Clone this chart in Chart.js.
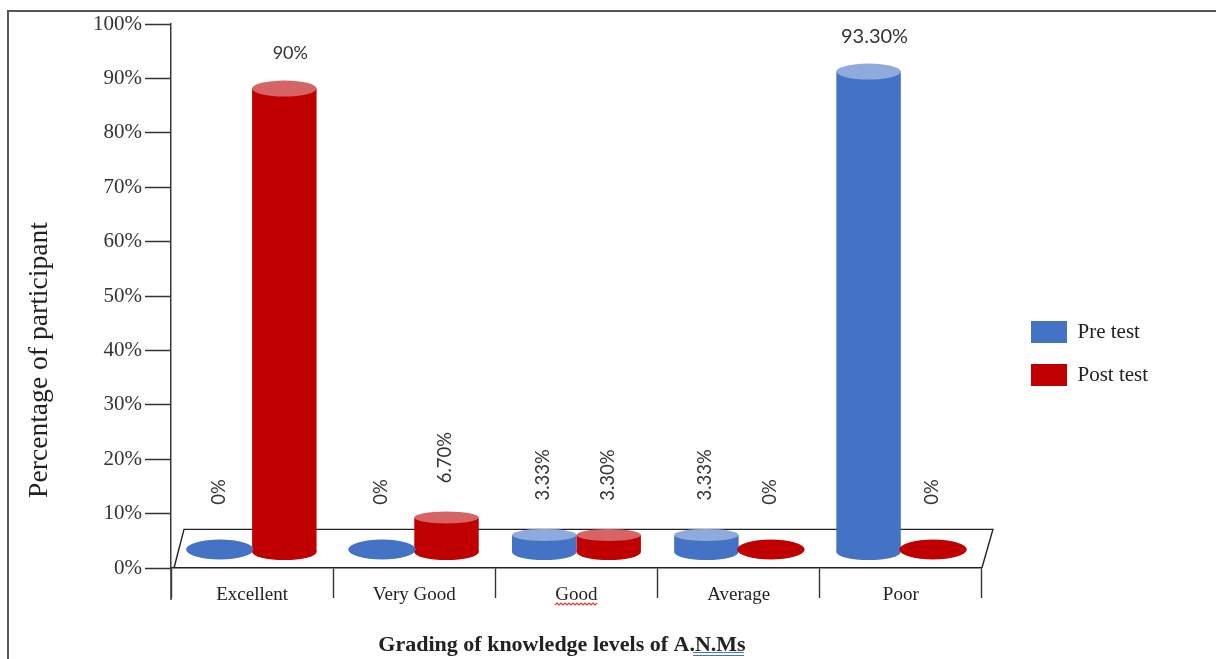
<!DOCTYPE html>
<html>
<head>
<meta charset="utf-8">
<title>Grading of knowledge levels</title>
<script src="https://cdn.jsdelivr.net/npm/chart.js@4"></script>
<style>
    html, body { margin: 0; padding: 0; background: #fff; overflow: hidden; }
    canvas { display: block; }
</style>
</head>
<body>
<canvas id="chart" width="1216" height="659"></canvas>
<script>
// values
const categories = ["Excellent", "Very Good", "Good", "Average", "Poor"];
const pre_test = [0, 0, 3.33, 3.33, 93.3];
const post_test = [90, 6.7, 3.3, 0, 0];
const pre_labels = ["0%", "0%", "3.33%", "3.33%", "93.30%"];
const post_labels = ["90%", "6.70%", "3.30%", "0%", "0%"];
const value_labels = [pre_labels, post_labels];

const BLUE = "#4472C4";
const RED = "#C00000";
const TOP_COLORS = ["#8FAADC", "#D66464"];
const LINE = "#3a3a3a";
const SERIF = "'Liberation Serif', serif";

// the cylinders stand on the 3D floor, so they get their own hidden scale
// (zero sits a little above the front edge of the floor)
const BAR_MIN = -3.1;
const BAR_MAX = 102.53;
const FLOOR_DEPTH = 7.1;

function ellipse(ctx, x, y, rx, ry, color) {
    ctx.fillStyle = color;
    ctx.beginPath();
    ctx.ellipse(x, y, rx, ry, 0, 0, Math.PI * 2);
    ctx.fill();
}

const framePlugin = {
    id: "frame",
    afterLayout(chart) {
        // legend sits further from the plot than the layout would put it
        const legend = chart.legend;
        const w = legend.width;
        legend.left = 1010;
        legend.right = legend.left + w;
        legend.top += 12;
        legend.bottom += 12;
    },
    beforeDatasetsDraw(chart) {
        const ctx = chart.ctx;
        const y = chart.scales.y;
        const area = chart.chartArea;
        const back = y.getPixelForValue(FLOOR_DEPTH);
        const front = y.getPixelForValue(0);

        ctx.save();
        // page frame
        ctx.strokeStyle = "#555";
        ctx.lineWidth = 2;
        ctx.beginPath();
        ctx.moveTo(8, 659);
        ctx.lineTo(8, 11);
        ctx.lineTo(1216, 11);
        ctx.stroke();

        // floor
        ctx.strokeStyle = "#222";
        ctx.lineWidth = 1.4;
        ctx.beginPath();
        ctx.moveTo(area.left + 3, front);
        ctx.lineTo(area.left + 13, back);
        ctx.lineTo(area.right + 11, back);
        ctx.lineTo(area.right, front);
        ctx.stroke();

        // y axis runs on below the zero line
        ctx.strokeStyle = LINE;
        ctx.lineWidth = 1.5;
        ctx.beginPath();
        ctx.moveTo(area.left, front);
        ctx.lineTo(area.left, front + 32);
        ctx.stroke();
        ctx.restore();
    },
    afterDatasetsDraw(chart) {
        const ctx = chart.ctx;
        ctx.save();
        chart.data.datasets.forEach(function (dataset, d) {
            chart.getDatasetMeta(d).data.forEach(function (bar, i) {
                const rx = bar.width / 2;
                const value = dataset.data[i];
                if (value === 0) {
                    ellipse(ctx, bar.x, bar.base - 2.5, rx + 1.5, 10, dataset.backgroundColor);
                } else {
                    ellipse(ctx, bar.x, bar.base, rx, 8, dataset.backgroundColor);
                    ellipse(ctx, bar.x, bar.y, rx, value > 10 ? 8 : 6, TOP_COLORS[d]);
                }

                // value label, rotated on the short bars
                const text = value_labels[d][i];
                ctx.fillStyle = "#333";
                ctx.textAlign = "center";
                ctx.textBaseline = "middle";
                ctx.save();
                if (value > 10) {
                    ctx.font = (value > 90 ? "20px" : "18px") + " Lato";
                    ctx.translate(bar.x + 6, bar.y - 35);
                } else {
                    ctx.font = "18.5px Lato";
                    ctx.translate(bar.x - 1, bar.y - 60);
                    ctx.rotate(-Math.PI / 2);
                }
                ctx.fillText(text, 0, 0);
                ctx.restore();
            });
        });
        ctx.restore();
    },
    afterDraw(chart) {
        const ctx = chart.ctx;
        ctx.save();
        // axis titles
        ctx.fillStyle = "#222";
        ctx.textAlign = "center";
        ctx.textBaseline = "middle";
        ctx.font = "bold 22px " + SERIF;
        ctx.fillText("Grading of knowledge levels of A.N.Ms", 562, 645);
        ctx.translate(40, 360);
        ctx.rotate(-Math.PI / 2);
        ctx.font = "27.6px " + SERIF;
        ctx.fillText("Percentage of participant", 0, 0);
        ctx.restore();

        // spell-check marks that are in the screenshot
        ctx.save();
        ctx.strokeStyle = "#d9363a";
        ctx.lineWidth = 1.2;
        ctx.beginPath();
        for (let x = 555, up = false; x <= 598; x += 2, up = !up) {
            ctx.lineTo(x, up ? 603 : 605);
        }
        ctx.stroke();
        ctx.strokeStyle = "#3f74d8";
        ctx.lineWidth = 1;
        ctx.beginPath();
        ctx.moveTo(693, 652.5);
        ctx.lineTo(744, 652.5);
        ctx.moveTo(693, 655.5);
        ctx.lineTo(744, 655.5);
        ctx.stroke();
        ctx.restore();
    }
};

new Chart(document.getElementById("chart"), {
    type: "bar",
    data: {
        labels: categories,
        datasets: [
            { label: "Pre test", data: pre_test, backgroundColor: BLUE, yAxisID: "yBars" },
            { label: "Post test", data: post_test, backgroundColor: RED, yAxisID: "yBars" }
        ]
    },
    plugins: [framePlugin],
    options: {
        responsive: false,
        animation: false,
        layout: { padding: { top: 24, right: 86, left: 0, bottom: 0 } },
        datasets: { bar: { categoryPercentage: 0.795, barPercentage: 1 } },
        plugins: {
            tooltip: { enabled: false },
            legend: {
                position: "right",
                labels: {
                    boxWidth: 36,
                    boxHeight: 22,
                    padding: 21,
                    color: "#222",
                    font: { family: SERIF, size: 21 }
                }
            }
        },
        scales: {
            x: {
                grid: { offset: true, drawOnChartArea: false, tickLength: 30, tickColor: "#333", tickWidth: 1.4 },
                border: { color: "#222", width: 1.5 },
                afterFit(scale) { scale.height = 91; },
                ticks: {
                    color: "#222",
                    padding: -14,
                    maxRotation: 0,
                    font: { family: SERIF, size: 19 }
                }
            },
            y: {
                min: 0,
                max: 100,
                grid: { drawOnChartArea: false, tickLength: 26, tickColor: "#333", tickWidth: 1.5 },
                border: { color: LINE, width: 1.5 },
                afterFit(scale) { scale.width = 171; },
                ticks: {
                    stepSize: 10,
                    color: "#333",
                    padding: 3,
                    font: { family: SERIF, size: 21 },
                    callback: function (v) { return v + "%"; }
                }
            },
            yBars: { display: false, min: BAR_MIN, max: BAR_MAX }
        }
    }
});
</script>
</body>
</html>
